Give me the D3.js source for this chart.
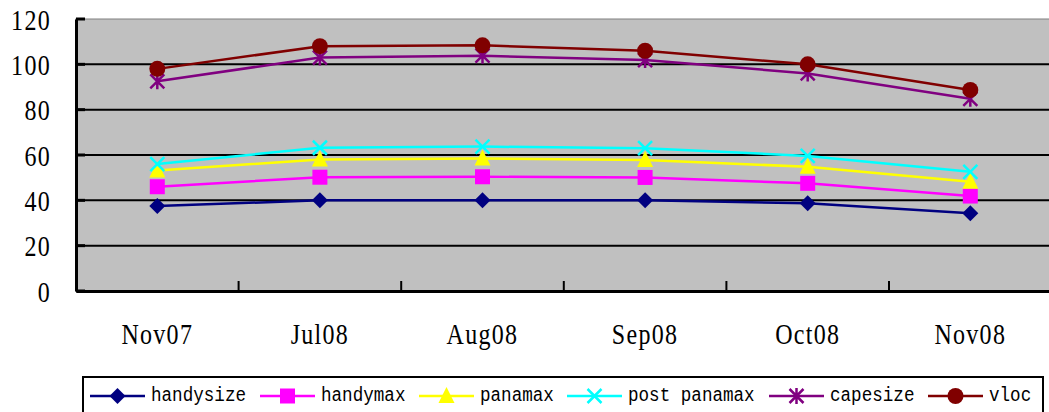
<!DOCTYPE html>
<html><head><meta charset="utf-8">
<script src="https://cdn.jsdelivr.net/npm/d3@7"></script>
<style>html,body{margin:0;padding:0;background:#fff;overflow:hidden}</style>
</head><body>
<svg id="c" width="1049" height="412"></svg>
<script>
const categories = ["Nov07","Jul08","Aug08","Sep08","Oct08","Nov08"];
const yTicks = [0,20,40,60,80,100,120];
const seriesNames = ["handysize","handymax","panamax","post panamax","capesize","vloc"];
const handysize   = [37.5, 40.0, 40.0, 40.0, 38.7, 34.3];
const handymax    = [46.0, 50.2, 50.4, 50.1, 47.5, 41.9];
const panamax     = [53.2, 58.0, 58.5, 57.8, 54.8, 48.2];
const postPanamax = [56.0, 63.2, 63.7, 63.0, 59.6, 52.6];
const capesize    = [92.5, 103.0, 103.8, 101.9, 96.0, 84.8];
const vloc        = [98.0, 108.0, 108.4, 106.0, 100.0, 88.7];

const series = [
  {name:seriesNames[0], values:handysize,   color:"#000080", marker:"diamond"},
  {name:seriesNames[1], values:handymax,    color:"#ff00ff", marker:"square"},
  {name:seriesNames[2], values:panamax,     color:"#ffff00", marker:"triangle"},
  {name:seriesNames[3], values:postPanamax, color:"#00ffff", marker:"x"},
  {name:seriesNames[4], values:capesize,    color:"#800080", marker:"star"},
  {name:seriesNames[5], values:vloc,        color:"#800000", marker:"circle"}
];

const SERIF = "'Liberation Serif', 'DejaVu Serif', serif";
const MONO = "'Liberation Mono', 'DejaVu Sans Mono', monospace";
const svg = d3.select("#c");
const pLeft = 76, pTop = 19, pBottom = 291, bandW = 162.6;
const pRight = pLeft + bandW * categories.length;

const x = d3.scaleBand().domain(categories).range([pLeft, pRight]).paddingInner(0).paddingOuter(0);
const y = d3.scaleLinear().domain([0,120]).range([pBottom, pTop]);

// plot area
svg.append("rect").attr("x", pLeft).attr("y", pTop).attr("width", pRight-pLeft).attr("height", pBottom-pTop)
  .attr("fill", "#c0c0c0").attr("stroke", "#808080").attr("stroke-width", 1);

// gridlines
svg.append("g").selectAll("line").data(yTicks.filter(d => d > 0 && d < 120)).join("line")
  .attr("x1", pLeft).attr("x2", pRight).attr("y1", d => y(d)).attr("y2", d => y(d))
  .attr("stroke", "#000").attr("stroke-width", 2);

// y axis
const yAxis = d3.axisLeft(y).tickValues(yTicks).tickSize(0);
const gy = svg.append("g").attr("transform", `translate(${pLeft},0)`).call(yAxis);
gy.select(".domain").attr("stroke", "#000").attr("stroke-width", 3);
gy.selectAll("text").attr("font-family", SERIF).attr("font-size", 24).attr("fill", "#000")
  .attr("letter-spacing", 1.3)
  .attr("x", 0).attr("y", 0).attr("dy", null).attr("text-anchor", "end")
  .attr("transform", "translate(-25,10) scale(1,1.25)");
// inner y ticks
svg.append("g").selectAll("line").data(yTicks).join("line")
  .attr("x1", pLeft).attr("x2", pLeft + 9).attr("y1", d => y(d)).attr("y2", d => y(d))
  .attr("stroke", "#000").attr("stroke-width", 3);

// x axis
const xAxis = d3.axisBottom(x).tickSize(0);
const gx = svg.append("g").attr("transform", `translate(0,${pBottom})`).call(xAxis);
gx.select(".domain").attr("stroke", "#000").attr("stroke-width", 3);
gx.selectAll("text").attr("font-family", SERIF).attr("font-size", 24).attr("fill", "#000")
  .attr("letter-spacing", 1.3)
  .attr("y", 0).attr("dy", null).attr("text-anchor", "middle")
  .attr("transform", "translate(0,53) scale(1,1.25)");
// inner x ticks at band boundaries
svg.append("g").selectAll("line").data(categories.slice(1)).join("line")
  .attr("x1", d => x(d)).attr("x2", d => x(d)).attr("y1", pBottom).attr("y2", pBottom - 10)
  .attr("stroke", "#000").attr("stroke-width", 2);

const cx = c => x(c) + x.bandwidth()/2;
const line = d3.line().x((d,i) => cx(categories[i])).y(d => y(d));

function drawMarker(g, type, color) {
  if (type === "diamond") g.append("path").attr("d", "M0,-8L8,0L0,8L-8,0Z").attr("fill", color);
  else if (type === "square") g.append("rect").attr("x", -7.5).attr("y", -7.5).attr("width", 15).attr("height", 15).attr("fill", color);
  else if (type === "triangle") g.append("path").attr("d", "M0,-9L8,7L-8,7Z").attr("fill", color);
  else if (type === "x") g.append("path").attr("d", "M-7,-7L7,7M-7,7L7,-7").attr("stroke", color).attr("stroke-width", 2.5).attr("fill", "none");
  else if (type === "star") g.append("path").attr("d", "M-7,-7L7,7M-7,7L7,-7M0,-8L0,8").attr("stroke", color).attr("stroke-width", 2.5).attr("fill", "none");
  else if (type === "circle") g.append("circle").attr("r", 8).attr("fill", color);
}

series.forEach(s => {
  const g = svg.append("g");
  g.append("path").attr("d", line(s.values)).attr("fill", "none").attr("stroke", s.color).attr("stroke-width", 2.5);
  s.values.forEach((v,i) => {
    const mg = g.append("g").attr("transform", `translate(${cx(categories[i])},${y(v)})`);
    drawMarker(mg, s.marker, s.color);
  });
});

// legend
const legX = [90, 260, 419, 567, 769, 928];
const legY = 396;
svg.append("rect").attr("x", 83).attr("y", 377).attr("width", 960).attr("height", 50)
  .attr("fill", "#fff").attr("stroke", "#000").attr("stroke-width", 2);
series.forEach((s, i) => {
  const g = svg.append("g").attr("transform", `translate(${legX[i]},${legY})`);
  g.append("line").attr("x1", 0).attr("x2", 55).attr("y1", 0).attr("y2", 0).attr("stroke", s.color).attr("stroke-width", 2.5);
  drawMarker(g.append("g").attr("transform", "translate(27.5,0)"), s.marker, s.color);
  g.append("text").attr("transform", "translate(61,5) scale(1,1.15)")
    .attr("font-family", MONO).attr("font-size", 17.6).attr("fill", "#000")
    .text(s.name);
});
</script>
</body></html>
